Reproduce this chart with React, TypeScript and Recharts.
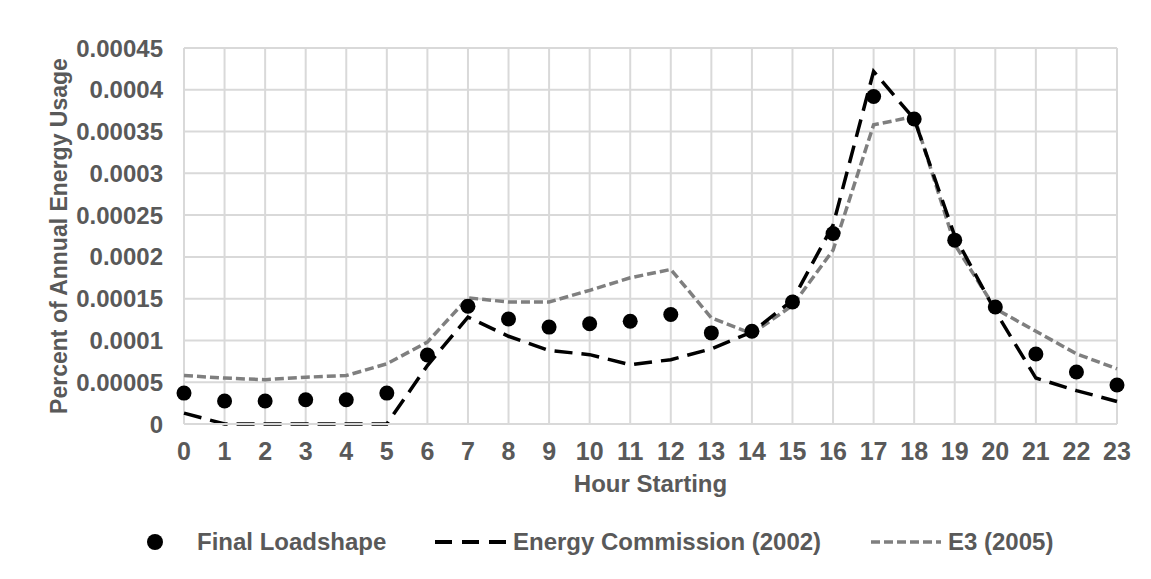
import React from 'react';
import { ComposedChart, Line, XAxis, YAxis, CartesianGrid } from 'recharts';

// hours on the x axis
const hours = [0, 1, 2, 3, 4, 5, 6, 7, 8, 9, 10, 11, 12, 13, 14, 15, 16, 17, 18, 19, 20, 21, 22, 23];

const finalLoadshape = [
  0.000037, 0.0000275, 0.0000275, 0.000029, 0.000029, 0.000037, 0.0000825, 0.000141,
  0.0001256, 0.000116, 0.00012, 0.000123, 0.000131, 0.000109, 0.000111, 0.000146,
  0.000228, 0.000392, 0.000365, 0.00022, 0.00014, 0.0000837, 0.0000622, 0.0000466,
];

const energyCommission = [
  0.000013, 0, 0, 0, 0, 0, 0.00007, 0.000128,
  0.000105, 0.000088, 0.000083, 0.000071, 0.000077, 0.00009, 0.00011, 0.000148,
  0.000238, 0.000422, 0.000365, 0.000225, 0.000135, 0.000055, 0.00004, 0.000027,
];

const e3 = [
  0.000058, 0.000055, 0.000053, 0.000056, 0.000058, 0.000072, 0.000098, 0.000151,
  0.000146, 0.000146, 0.00016, 0.000175, 0.000185, 0.000127, 0.000108, 0.000142,
  0.000208, 0.000358, 0.000368, 0.000215, 0.000138, 0.000111, 0.000084, 0.000066,
];

const yTicks = [0, 0.00005, 0.0001, 0.00015, 0.0002, 0.00025, 0.0003, 0.00035, 0.0004, 0.00045];
const yTickLabels = ['0', '0.00005', '0.0001', '0.00015', '0.0002', '0.00025', '0.0003', '0.00035', '0.0004', '0.00045'];

const chartData = hours.map((h, i) => ({
  hour: h,
  final: finalLoadshape[i],
  ec: energyCommission[i],
  e3: e3[i],
}));

const FONT = '"Liberation Sans", Arial, sans-serif';
const TEXT = '#595959';
const GRID = '#d9d9d9';

const YTitle = ({ viewBox }: any) => {
  const cx = viewBox.x + 59;
  const cy = viewBox.y + viewBox.height / 2;
  return (
    <text
      x={cx}
      y={cy}
      dy="0.35em"
      transform={`rotate(-90 ${cx} ${cy})`}
      textAnchor="middle"
      fill={TEXT}
      fontFamily={FONT}
      fontWeight="bold"
      fontSize={23}
    >
      Percent of Annual Energy Usage
    </text>
  );
};

const legendText: React.CSSProperties = {
  position: 'absolute',
  top: 528,
  fontFamily: FONT,
  fontWeight: 'bold',
  fontSize: 24,
  color: TEXT,
  lineHeight: '28px',
  whiteSpace: 'nowrap',
};

export default function App() {
  return (
    <div style={{ position: 'relative', margin: -8, width: 1151, height: 579, overflow: 'hidden', background: '#fff' }}>
      <div
        style={{
          position: 'absolute',
          left: 3,
          top: 2,
          width: 1300,
          height: 700,
          borderTop: `2px solid ${GRID}`,
          borderLeft: `2px solid ${GRID}`,
        }}
      />
      <div style={{ position: 'absolute', left: 0, top: 0 }}>
        <ComposedChart width={1151} height={579} data={chartData} margin={{ top: 48, right: 34, bottom: 75, left: 0 }}>
          <CartesianGrid stroke={GRID} strokeWidth={2} />
          <XAxis
            dataKey="hour"
            type="number"
            domain={[0, 23]}
            ticks={hours}
            interval={0}
            tickSize={0}
            tickMargin={18}
            tickLine={false}
            axisLine={{ stroke: GRID, strokeWidth: 2 }}
            height={80}
            tick={{ fill: TEXT, fontFamily: FONT, fontWeight: 'bold', fontSize: 25 }}
            label={{
              value: 'Hour Starting',
              position: 'insideBottom',
              offset: 12,
              fill: TEXT,
              fontFamily: FONT,
              fontWeight: 'bold',
              fontSize: 24,
            }}
          />
          <YAxis
            type="number"
            domain={[0, 0.00045]}
            ticks={yTicks}
            interval={0}
            width={184}
            tickSize={0}
            tickMargin={21}
            tickLine={false}
            axisLine={false}
            tickFormatter={(v: number) => yTickLabels[yTicks.indexOf(v)] ?? String(v)}
            tick={{ fill: TEXT, fontFamily: FONT, fontWeight: 'bold', fontSize: 24 }}
            label={<YTitle />}
          />
          <Line
            dataKey="e3"
            type="linear"
            stroke="#7f7f7f"
            strokeWidth={3.5}
            strokeDasharray="9 4"
            dot={false}
            activeDot={false}
            isAnimationActive={false}
          />
          <Line
            dataKey="ec"
            type="linear"
            stroke="#000"
            strokeWidth={3.5}
            strokeDasharray="18 9"
            dot={false}
            activeDot={false}
            isAnimationActive={false}
          />
          <Line
            dataKey="final"
            type="linear"
            stroke="none"
            dot={{ r: 7.5, fill: '#000', stroke: 'none' }}
            activeDot={false}
            isAnimationActive={false}
          />
        </ComposedChart>
      </div>

      {/* legend */}
      <svg style={{ position: 'absolute', left: 0, top: 528 }} width={1151} height={30}>
        <circle cx={155} cy={14} r={8} fill="#000" />
        <line x1={435} x2={507} y1={14} y2={14} stroke="#000" strokeWidth={4} strokeDasharray="17 10" />
        <line x1={871} x2={941} y1={14} y2={14} stroke="#7f7f7f" strokeWidth={3.5} strokeDasharray="9 4" />
      </svg>
      <div style={{ ...legendText, left: 197 }}>Final Loadshape</div>
      <div style={{ ...legendText, left: 513 }}>Energy Commission (2002)</div>
      <div style={{ ...legendText, left: 948 }}>E3 (2005)</div>
    </div>
  );
}
